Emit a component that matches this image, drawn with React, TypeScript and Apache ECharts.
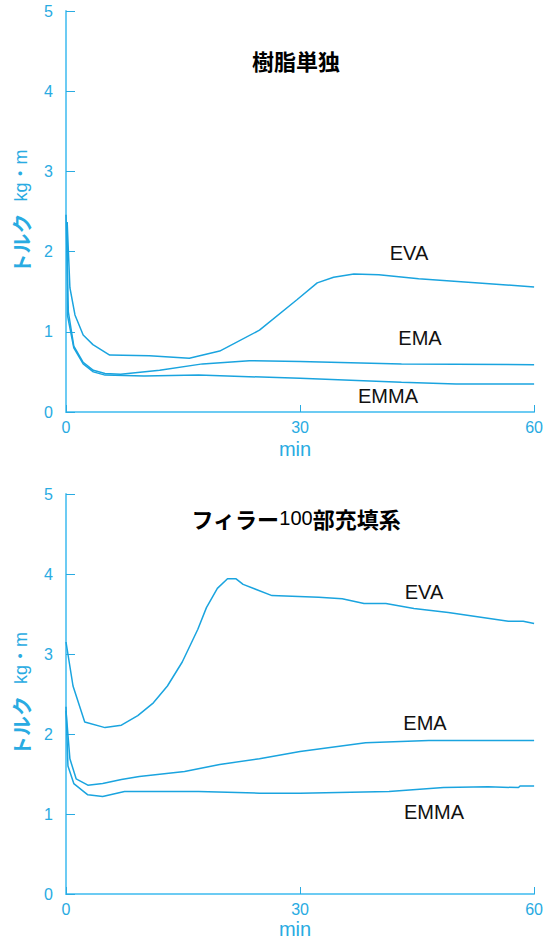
import React, { useEffect, useRef } from "react";
import * as echarts from "echarts";

// time (min), torque (kg・m)
const resinEVA: [number, number][] = [
  [0.15, 2.37], [0.5, 1.55], [1.15, 1.21], [2.2, 0.96], [3.45, 0.84], [5.6, 0.71],
  [10.7, 0.7], [15.8, 0.67], [19.7, 0.76], [24.8, 1.02], [29.6, 1.4], [32.2, 1.61],
  [34.3, 1.68], [36.9, 1.72], [40.1, 1.71], [45.2, 1.66], [52.9, 1.61], [60, 1.56],
];
const resinEMA: [number, number][] = [
  [0, 2.46], [0.3, 1.25], [1, 0.82], [2.2, 0.62], [3.5, 0.52], [5, 0.48], [7, 0.47],
  [12, 0.52], [17.5, 0.6], [23.5, 0.64], [30, 0.63], [43, 0.6], [60, 0.59],
];
const resinEMMA: [number, number][] = [
  [0.15, 2.36], [0.2, 1.2], [1, 0.8], [2.2, 0.6], [3.5, 0.5], [5, 0.46], [10, 0.45],
  [17, 0.46], [30, 0.42], [43, 0.37], [50, 0.35], [60, 0.35],
];
const fillerEVA: [number, number][] = [
  [0, 3.15], [0.9, 2.6], [2.4, 2.15], [5, 2.08], [7.1, 2.11], [9.2, 2.23], [11.2, 2.39],
  [13, 2.6], [14.9, 2.9], [16.9, 3.31], [18, 3.58], [19.4, 3.82], [20.7, 3.94], [21.8, 3.94],
  [22.7, 3.87], [26.4, 3.73], [32.4, 3.71], [35.4, 3.69], [38.2, 3.63], [41, 3.63],
  [44.6, 3.57], [49, 3.52], [56.7, 3.41], [58.6, 3.41], [60, 3.38],
];
const fillerEMA: [number, number][] = [
  [0, 2.29], [0.5, 1.69], [1.3, 1.44], [2.8, 1.36], [4.7, 1.38], [7.1, 1.43], [9.4, 1.47],
  [15.2, 1.53], [19.7, 1.62], [24.8, 1.69], [30, 1.78], [38.4, 1.89], [46.5, 1.92], [60, 1.92],
];
const fillerEMMA: [number, number][] = [
  [0, 2.34], [0.25, 1.6], [1, 1.38], [2.8, 1.24], [4.7, 1.22], [7.5, 1.28], [17, 1.28],
  [24.8, 1.26], [30, 1.26], [41.4, 1.28], [48.4, 1.33], [54.1, 1.34], [58, 1.33],
  [58.2, 1.35], [60, 1.35],
];

const titles = ["樹脂単独", "{b|フィラー}{n|100}{b|部充填系}"];
const seriesNames = ["EVA", "EMA", "EMMA"];
const yTitle = "{a|トルク}　{b|kg・m}";
const xTitle = "min";

const LINE = "#1aa4df";
const AXIS = "#6ccbf3";
const LABEL = "#29abe2";
const FONT = "'Liberation Sans', Arial, 'Noto Sans CJK JP', sans-serif";
const JFONT = "'Noto Sans CJK JP', sans-serif";

export default function App() {
  const ref = useRef<HTMLDivElement>(null);
  useEffect(() => {
    document.body.style.margin = "0";
    const chart = echarts.init(ref.current!, null, { renderer: "svg" });
    const xAxis = (gridIndex: number, gap: number) => ({
      type: "value" as const,
      gridIndex,
      min: 0,
      max: 60,
      interval: 30,
      name: xTitle,
      nameLocation: "middle" as const,
      nameGap: gap,
      nameTextStyle: { color: LABEL, fontSize: 20, fontFamily: FONT, padding: [0, 10, 0, 0] },
      axisLine: { lineStyle: { color: AXIS, width: 2 } },
      axisTick: { inside: true, length: 7, lineStyle: { color: LABEL, width: 1 } },
      axisLabel: { color: LABEL, fontSize: 16, margin: 7, fontFamily: FONT },
      splitLine: { show: false },
    });
    const yAxis = (gridIndex: number) => ({
      type: "value" as const,
      gridIndex,
      min: 0,
      max: 5,
      interval: 1,
      name: yTitle,
      nameLocation: "middle" as const,
      nameRotate: 90,
      nameGap: 35,
      nameTextStyle: {
        color: LABEL,
        rich: {
          a: { fontSize: 20, fontWeight: "bold", fontFamily: JFONT, color: LABEL },
          b: { fontSize: 18, fontFamily: FONT, color: LABEL },
        },
      },
      axisLine: { show: true, lineStyle: { color: AXIS, width: 2 } },
      axisTick: { show: true, inside: true, length: 9, lineStyle: { color: LABEL, width: 1 } },
      axisLabel: { color: LABEL, fontSize: 16, margin: 13, fontFamily: FONT },
      splitLine: { show: false },
    });
    const line = (name: string, data: [number, number][], idx: number) => ({
      type: "line" as const,
      name,
      data,
      xAxisIndex: idx,
      yAxisIndex: idx,
      showSymbol: false,
      symbol: "none",
      lineStyle: { color: LINE, width: 1.5 },
    });
    const lbl = (text: string, x: number, y: number) => ({
      type: "text" as const,
      x,
      y,
      style: {
        text,
        fill: "#111",
        font: `20px ${FONT}`,
        textAlign: "center",
        textVerticalAlign: "middle",
      },
    });
    chart.setOption({
      animation: false,
      grid: [
        { left: 66, top: 11, width: 470, height: 401 },
        { left: 66, top: 494, width: 470, height: 402 },
      ],
      xAxis: [xAxis(0, 27), xAxis(1, 25)],
      yAxis: [yAxis(0), yAxis(1)],
      series: [
        line(seriesNames[0], resinEVA, 0),
        line(seriesNames[1], resinEMA, 0),
        line(seriesNames[2], resinEMMA, 0),
        line(seriesNames[0], fillerEVA, 1),
        line(seriesNames[1], fillerEMA, 1),
        line(seriesNames[2], fillerEMMA, 1),
      ],
      graphic: [
        {
          type: "text",
          x: 296,
          y: 60,
          style: {
            text: titles[0],
            fill: "#000",
            font: `bold 22px ${JFONT}`,
            textAlign: "center",
            textVerticalAlign: "middle",
          },
        },
        {
          type: "text",
          x: 296,
          y: 518,
          style: {
            text: titles[1],
            textAlign: "center",
            textVerticalAlign: "middle",
            rich: {
              b: { fontSize: 22, fontWeight: "bold", fontFamily: JFONT, fill: "#000" },
              n: { fontSize: 20, fontFamily: FONT, fill: "#000" },
            },
          },
        },
        lbl(seriesNames[0], 409, 253),
        lbl(seriesNames[1], 420, 338),
        lbl(seriesNames[2], 388, 396),
        lbl(seriesNames[0], 424, 592),
        lbl(seriesNames[1], 425, 723),
        lbl(seriesNames[2], 434, 812),
      ],
    });
    return () => chart.dispose();
  }, []);
  return (
    <div
      ref={ref}
      style={{ position: "absolute", left: 0, top: 0, width: 546, height: 940 }}
    />
  );
}
